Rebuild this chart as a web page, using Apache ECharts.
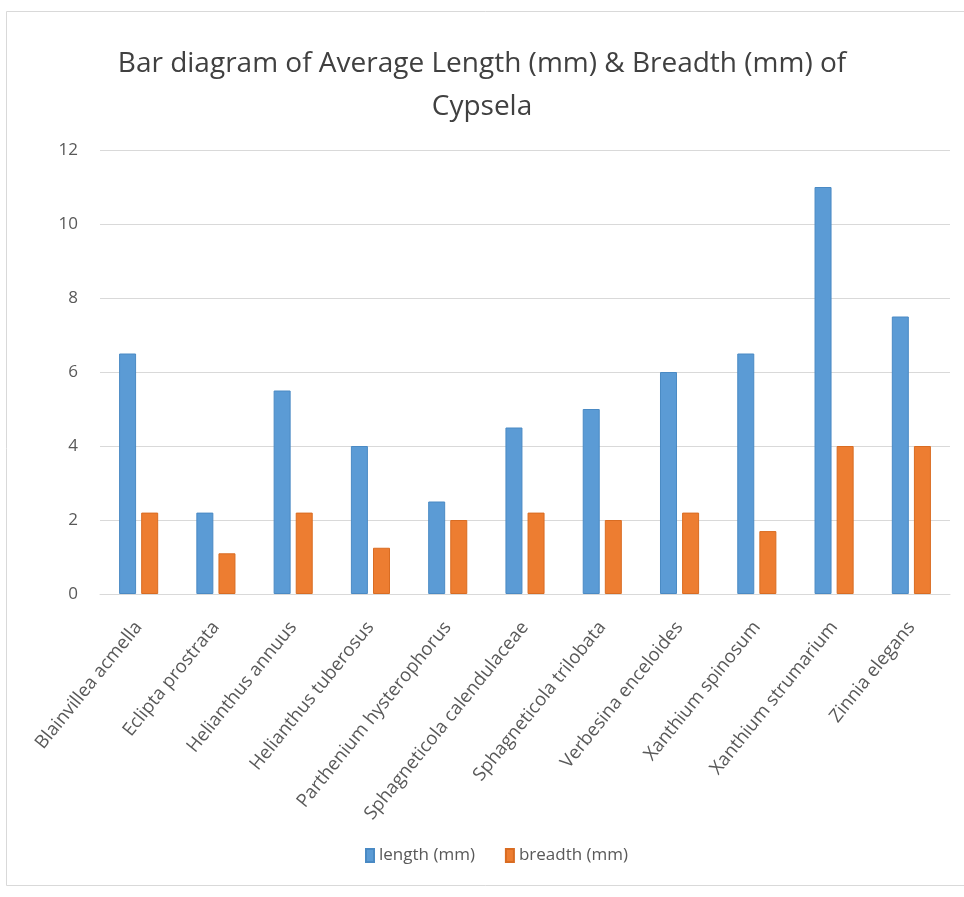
<!DOCTYPE html>
<html>
<head>
<meta charset="utf-8">
<script src="https://cdn.jsdelivr.net/npm/echarts@6/dist/echarts.min.js"></script>
<style>
html,body{margin:0;padding:0;background:#fff;}
#chart{width:964px;height:897px;}
</style>
</head>
<body>
<div id="chart"></div>
<script>
const categories = ["Blainvillea acmella","Eclipta prostrata","Helianthus annuus","Helianthus tuberosus","Parthenium hysterophorus","Sphagneticola calendulaceae","Sphagneticola trilobata","Verbesina enceloides","Xanthium spinosum","Xanthium strumarium","Zinnia elegans"];
const lengthMm = [6.5, 2.2, 5.5, 4, 2.5, 4.5, 5, 6, 6.5, 11, 7.5];
const breadthMm = [2.2, 1.1, 2.2, 1.25, 2, 2.2, 2, 2.2, 1.7, 4, 4];
const seriesNames = ["length (mm)", "breadth (mm)"];
const titleText = "Bar diagram of Average Length (mm) & Breadth (mm) of\nCypsela";

const FONT = "'Open Sans', sans-serif";
const chart = echarts.init(document.getElementById('chart'));
chart.setOption({
  animation: false,
  backgroundColor: '#fff',
  graphic: [{
    type: 'rect', left: 4, top: 9,
    shape: {width: 990, height: 874},
    style: {fill: 'none', stroke: '#d9d9d9', lineWidth: 1}, silent: true
  }],
  title: {
    text: titleText, left: 'center', top: 38,
    textStyle: {fontFamily: FONT, fontSize: 28, fontWeight: 'normal', color: '#404040', lineHeight: 43}
  },
  legend: {
    bottom: 28, left: 360, itemWidth: 8, itemHeight: 13, itemGap: 30, icon: 'rect',
    textStyle: {fontFamily: FONT, fontSize: 17, color: '#595959'},
    data: seriesNames
  },
  grid: {left: 100, right: 14, top: 150, bottom: 303, containLabel: false},
  xAxis: {
    type: 'category', data: categories,
    axisLine: {lineStyle: {color: '#d9d9d9'}}, axisTick: {show: false},
    axisLabel: {rotate: 51, interval: 0, fontFamily: FONT, fontSize: 18.5, color: '#595959', margin: 30}
  },
  yAxis: {
    type: 'value', min: 0, max: 12, interval: 2,
    axisLine: {show: false}, axisTick: {show: false},
    splitLine: {lineStyle: {color: '#d9d9d9'}},
    axisLabel: {fontFamily: FONT, fontSize: 17, color: '#595959', margin: 22}
  },
  series: [
    {name: seriesNames[0], type: 'bar', data: lengthMm, barWidth: 17, barGap: '30%',
     itemStyle: {color: '#5B9BD5', borderColor: '#4a8ac4', borderWidth: 1}},
    {name: seriesNames[1], type: 'bar', data: breadthMm, barWidth: 17,
     itemStyle: {color: '#ED7D31', borderColor: '#d96c22', borderWidth: 1}}
  ]
});
</script>
</body>
</html>
